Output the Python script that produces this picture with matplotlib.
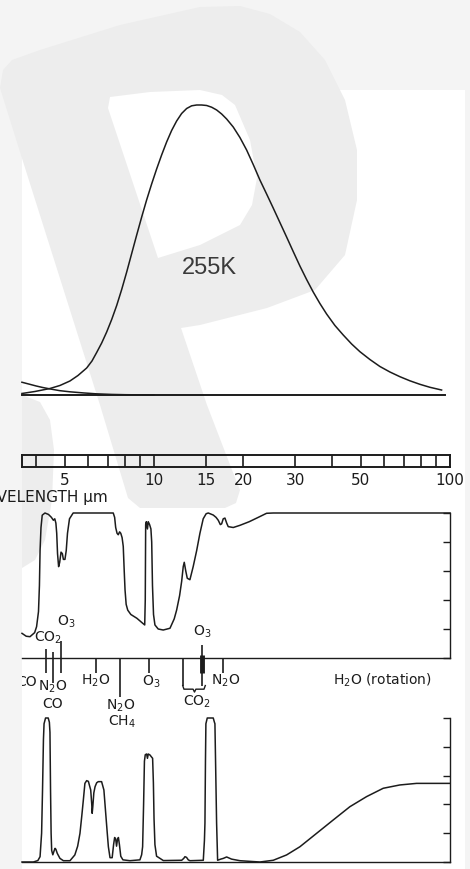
import numpy as np
import matplotlib.pyplot as plt
from matplotlib.patches import Polygon, Rectangle
from matplotlib.ticker import NullLocator

plt.rcParams['font.family'] = ['DejaVu Sans']
plt.rcParams['mathtext.fontset'] = 'dejavusans'

W, H = 470, 869
INK = '#1c1c1c'

# black body curve 255K (normalised)
bb_wl = [3.578, 3.959, 4.449, 4.809, 5.198, 5.533, 5.921, 6.170, 6.400, 6.654,
         6.918, 7.193, 7.478, 7.775, 8.084, 8.404, 8.738, 9.084, 9.439, 9.815,
         10.204, 10.608, 11.029, 11.467, 11.922, 12.395, 12.887, 13.398, 13.930,
         14.482, 15.057, 15.654, 16.275, 16.921, 17.592, 18.519, 19.508, 20.551,
         21.633, 22.789, 24.009, 25.272, 26.624, 28.05, 29.527, 31.107, 32.771,
         34.498, 36.345, 38.29, 40.846, 43.576, 46.518, 49.624, 53.63, 57.97,
         62.67, 67.73, 73.19, 79.11, 85.52, 93.66]
bb_val = [0.0052, 0.0121, 0.0224, 0.0328, 0.0483, 0.0672, 0.0931, 0.1172, 0.1466,
          0.1793, 0.2172, 0.2603, 0.3086, 0.3638, 0.4241, 0.4879, 0.5517, 0.6138,
          0.6724, 0.7276, 0.7793, 0.8276, 0.8724, 0.9121, 0.9448, 0.9707, 0.9879,
          0.9972, 1.0, 1.0, 0.9983, 0.9924, 0.9828, 0.9690, 0.9517, 0.9241,
          0.8879, 0.8448, 0.7948, 0.7414, 0.6931, 0.6448, 0.5948, 0.5448, 0.4948,
          0.4448, 0.3983, 0.3552, 0.3155, 0.2793, 0.2397, 0.2069, 0.1759, 0.1493,
          0.1224, 0.0983, 0.0793, 0.0631, 0.0490, 0.0369, 0.0266, 0.0172]

# tail of the solar curve
sun_wl = [3.578, 3.8, 4.0, 4.2, 4.449, 4.8, 5.2, 5.8, 6.4, 7.2, 8.0, 10.0]
sun_val = [0.044, 0.037, 0.031, 0.026, 0.021, 0.015, 0.011, 0.007, 0.004, 0.002,
           0.001, 0.0]

# wavelength scale bar
bar_ticks = [4, 5, 6, 7, 8, 9, 10, 15, 20, 30, 40, 50, 60, 70, 80, 90, 100]
bar_labels = [5, 10, 15, 20, 30, 50, 100]

# absorption, whole atmosphere (%)
mid_wl = [3.58, 3.70, 3.81, 3.95, 4.01, 4.07, 4.10, 4.12, 4.15, 4.19, 4.28, 4.40,
          4.50, 4.57, 4.62, 4.66, 4.69, 4.72, 4.76, 4.80, 4.85, 4.90, 4.94, 5.00,
          5.05, 5.10, 5.18, 5.33, 7.28, 7.36, 7.42, 7.50, 7.57, 7.65, 7.72, 7.80,
          7.87, 7.93, 7.98, 8.05, 8.15, 8.35, 8.75, 9.15, 9.30, 9.34, 9.37, 9.42,
          9.50, 9.56, 9.66, 9.76, 9.82, 9.88, 9.96, 10.07, 10.33, 10.74, 11.32,
          11.70, 11.92, 12.20, 12.40, 12.55, 12.65, 12.80, 12.95, 13.22, 13.56,
          13.93, 14.29, 14.66, 15.0, 15.25, 15.85, 16.2, 16.48, 16.75, 16.92,
          17.13, 17.36, 17.6, 17.81, 18.52, 19.51, 20.97, 22.5, 24.0, 25.3, 100]
mid_abs = [17, 15, 14.7, 17.5, 21.6, 32, 50, 74, 90, 98.5, 100, 99,
           97, 95, 96, 93, 86, 72, 63, 66, 73, 72, 68, 68,
           74, 86, 96, 100, 100, 97, 90, 86, 85, 87, 86, 83,
           77, 60, 47, 37, 33, 30, 27.4, 24, 22.8, 40, 92, 94,
           89, 94, 92, 89, 80, 50, 30, 22.8, 20, 19.3, 20.5,
           27, 33, 43, 53, 63, 66, 60, 55, 54, 63,
           74, 86, 96, 99.5, 100, 98.6, 97, 95, 92, 92.5,
           96, 96.5, 93, 90.6, 90, 91.5, 94, 97, 99.8, 100, 100]

# absorption above the tropopause (%)
bot_wl = [3.58, 3.91, 4.05, 4.12, 4.17, 4.20, 4.23, 4.25, 4.30, 4.39, 4.43, 4.45,
          4.47, 4.49, 4.51, 4.55, 4.60, 4.63, 4.66, 4.71, 4.81, 4.94, 5.20, 5.40,
          5.52, 5.62, 5.70, 5.77, 5.84, 5.92, 6.00, 6.11, 6.16, 6.18, 6.21, 6.26,
          6.32, 6.40, 6.48, 6.65, 6.77, 6.88, 6.95, 7.01, 7.10, 7.22, 7.30, 7.36,
          7.42, 7.47, 7.53, 7.58, 7.64, 7.72, 7.85, 8.29, 8.96, 9.08, 9.15, 9.22,
          9.28, 9.34, 9.44, 9.50, 9.56, 9.69, 9.80, 9.89, 9.95, 10.0, 10.07, 10.2,
          10.26, 10.75, 12.40, 12.60, 12.72, 12.88, 13.05, 13.22, 14.67, 14.80,
          14.86, 14.92, 14.97, 15.13, 15.85, 16.0, 16.06, 16.20, 16.27, 16.40,
          16.8, 17.14, 17.59, 18.28, 19.51, 22.79, 25.28, 28.04, 31.11, 35.42,
          40.32, 45.89, 52.25, 59.48, 67.7, 77.1, 94.9, 100]
bot_abs = [0, 0, 1, 3.7, 20, 50, 85, 96, 100, 100, 97, 90,
           50, 20, 8, 5, 8, 9.5, 8.8, 6, 2.5, 0.9, 0.9, 4.9,
           11, 19.9, 32, 43.1, 54.6, 56.5, 56, 50, 40, 33.8, 38.4, 48,
           52.3, 55, 55.8, 55.8, 50, 31.5, 20, 10.6, 3, 3, 12, 17,
           16, 11, 16, 17, 12, 4, 1.5, 0.9, 1.5, 5, 10.6, 40,
           70, 74.5, 75, 72, 75, 74.3, 73, 72, 55, 30, 12, 4,
           3.7, 1, 1.2, 2.5, 3.7, 3.2, 1.5, 0.9, 1.2, 15,
           27, 70, 96, 100, 100, 97, 96, 50, 27, 1.2,
           2, 2.5, 3.5, 2, 0.9, 0, 1.2, 4.9, 10.6, 19.9,
           29.2, 38.4, 45.4, 51.2, 53.5, 54.6, 54.6, 54.6]

# absorption band markers under the middle panel
band_wl = [4.33, 4.57, 4.84, 6.35, 7.67, 9.64, 12.55, 14.56, 17.05]
band_top = [6, 4, 12, 0, 0, 0, 0, 9, 0]
band_bot = [-10, -17, -10, -10, -27, -10, -19, -19, -10]

gas_labels = [
    ('CO$_2$', 4.38, 14, 'center'),
    ('O$_3$', 5.04, 25, 'center'),
    ('O$_3$', 14.6, 18, 'center'),
    ('N$_2$O', 4.55, -20.2, 'center'),
    ('CO', 4.55, -31.8, 'center'),
    ('H$_2$O', 6.36, -15.9, 'center'),
    ('O$_3$', 9.75, -16.6, 'center'),
    ('N$_2$O', 7.74, -33.3, 'center'),
    ('CH$_4$', 7.77, -44.0, 'center'),
    ('CO$_2$', 14.0, -30.3, 'center'),
    ('N$_2$O', 15.6, -15.9, 'left'),
    ('H$_2$O (rotation)', 59.3, -15.2, 'center'),
]

# watermark outline (pixels)
wm_outer = [(0, 88), (3, 70), (12, 60), (40, 50), (120, 25), (200, 7), (240, 6),
            (270, 14), (300, 32), (325, 60), (345, 100), (357, 150), (357, 200),
            (345, 255), (315, 290), (267, 308), (200, 325), (181, 328), (207, 405),
            (232, 470), (240, 490), (236, 503), (225, 508), (140, 508), (128, 498),
            (100, 405), (20, 152)]
wm_hole = [(108, 108), (110, 97), (150, 92), (200, 90), (222, 95), (235, 105),
           (250, 140), (257, 178), (252, 205), (240, 225), (200, 245), (158, 258)]
wm_low = [(22, 395), (40, 402), (50, 420), (54, 450), (52, 500), (45, 540),
          (35, 560), (22, 568)]

fig = plt.figure(figsize=(W / 100, H / 100), dpi=100)
fig.patch.set_facecolor('#f4f4f4')

bg = fig.add_axes([0, 0, 1, 1], zorder=-10)
bg.set_xlim(0, W)
bg.set_ylim(H, 0)
bg.axis('off')
bg.add_patch(Rectangle((22, 90), 443, 779, fc='white', ec='none'))
bg.add_patch(Polygon(wm_outer, closed=True, fc='#ededed', ec='none'))
bg.add_patch(Polygon(wm_hole, closed=True, fc='white', ec='none'))
bg.add_patch(Polygon(wm_low, closed=True, fc='#ededed', ec='none'))


def box(top, bot, left=22, right=450):
    return [left / W, 1 - bot / H, (right - left) / W, (bot - top) / H]


def prep(ax):
    ax.set_facecolor('none')
    ax.set_xscale('log')
    ax.set_xlim(3.58, 100)
    ax.xaxis.set_minor_locator(NullLocator())
    for s in ax.spines.values():
        s.set_linewidth(1.0)
        s.set_color(INK)


# top: black body curves
ax_top = fig.add_axes(box(105, 395))
prep(ax_top)
ax_top.set_ylim(0, 1)
ax_top.axis('off')
ax_top.plot(bb_wl, bb_val, color=INK, lw=1.1, clip_on=False)
ax_top.plot(sun_wl, sun_val, color=INK, lw=1.1, clip_on=False)
ax_top.plot([3.58, 96], [0, 0], color=INK, lw=1.4, clip_on=False)
ax_top.text(15.4, 0.438, '255K', family='Liberation Sans', fontsize=17,
            color='#3a3a3a', ha='center', va='center')

# wavelength scale bar
ax_bar = fig.add_axes(box(455, 467))
prep(ax_bar)
ax_bar.set_ylim(0, 1)
ax_bar.set_yticks([])
ax_bar.vlines(bar_ticks, 0, 1, color=INK, lw=1.2)
ax_bar.set_xticks(bar_labels, labels=[str(v) for v in bar_labels])
ax_bar.tick_params(axis='x', length=0, pad=4, labelsize=11, labelcolor=INK)
for s in ax_bar.spines.values():
    s.set_linewidth(1.4)
fig.text(108 / W, 1 - 497 / H, 'WAVELENGTH μm', ha='right', va='center',
         fontsize=11, color=INK)

# middle: absorption, whole atmosphere
ax_mid = fig.add_axes(box(513, 658))
prep(ax_mid)
ax_mid.set_ylim(0, 100)
ax_mid.plot(mid_wl, mid_abs, color=INK, lw=1.1, clip_on=False)

# bottom: absorption above tropopause
ax_bot = fig.add_axes(box(718, 862))
prep(ax_bot)
ax_bot.set_ylim(0, 100)
ax_bot.plot(bot_wl, bot_abs, color=INK, lw=1.1, clip_on=False)

for ax in (ax_mid, ax_bot):
    ax.spines['left'].set_visible(False)
    ax.spines['top'].set_visible(False)
    ax.yaxis.tick_right()
    ax.set_yticks(range(0, 101, 20))
    ax.tick_params(axis='y', direction='in', length=5, width=1.0, color=INK,
                   labelright=False, right=True, left=False)
    ax.tick_params(axis='x', which='both', bottom=False, labelbottom=False)

# band markers and gas names
ax_mid.vlines(band_wl, band_bot, band_top, color=INK, lw=1.2, clip_on=False)
ax_mid.vlines([14.56], [-10], [2], color=INK, lw=3.5, clip_on=False)
ax_mid.plot([12.5, 12.62, 13.55, 13.7, 13.85, 14.75, 14.9],
            [-19, -21.5, -21.5, -23.5, -21.5, -21.5, -19],
            color=INK, lw=1.0, clip_on=False)
for txt, wl, yy, ha in gas_labels:
    ax_mid.text(wl, yy, txt, ha=ha, va='center', fontsize=10, color=INK,
                clip_on=False)

# label cut by the left edge of the scanned page
ax_clip = fig.add_axes([22 / W, 0, (W - 22) / W, 1])
ax_clip.axis('off')
ax_clip.patch.set_visible(False)
ax_clip.text(3.72, -16.6, 'CO', transform=ax_mid.transData, ha='center',
             va='center', fontsize=10, color=INK, clip_on=True)

fig.savefig('out.png', dpi=100)
